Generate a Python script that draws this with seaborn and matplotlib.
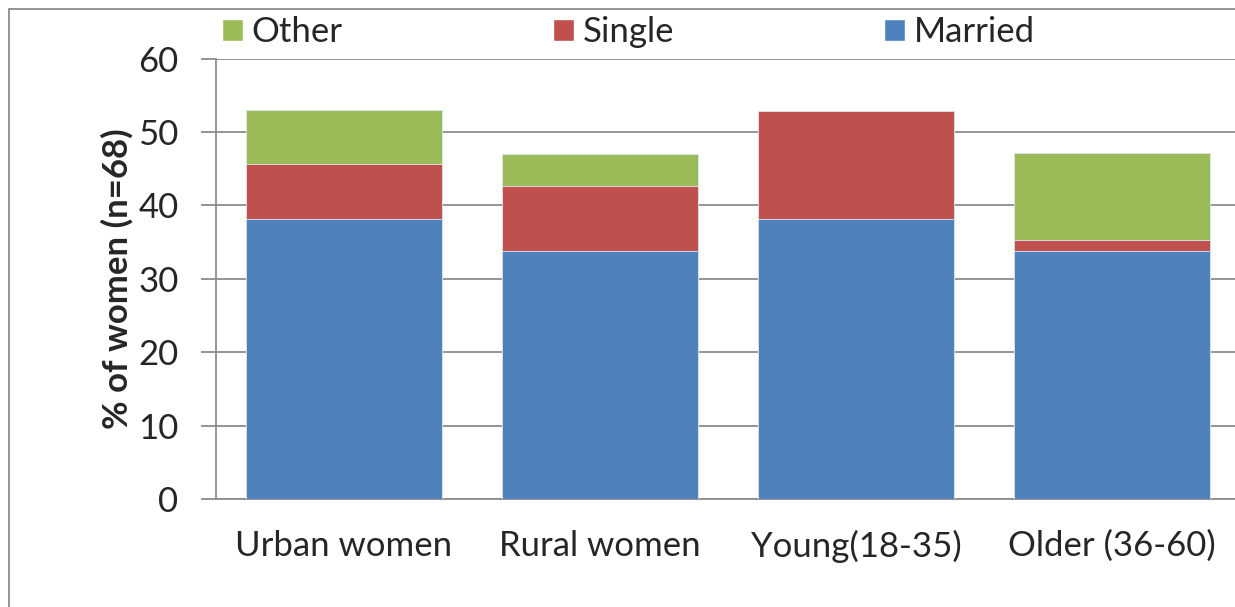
import matplotlib
matplotlib.use("Agg")
import matplotlib.pyplot as plt
import seaborn as sns
import pandas as pd
from matplotlib.patches import Patch, Rectangle

categories = ["Urban women", "Rural women", "Young(18-35)", "Older (36-60)"]
married = [38.2, 33.8, 38.2, 33.8]
single = [7.4, 8.8, 14.7, 1.5]
other = [7.4, 4.4, 0.0, 11.8]
yticks = [0, 10, 20, 30, 40, 50, 60]

c_married = "#4F81BD"
c_single = "#C0504D"
c_other = "#9BBB59"

sns.set_theme(style="white")
plt.rcParams["font.family"] = ["Lato", "DejaVu Sans"]

df = pd.DataFrame({"cat": categories, "married": married, "single": single, "other": other})
df["ms"] = df["married"] + df["single"]
df["total"] = df["ms"] + df["other"]

fig = plt.figure(figsize=(12.35, 6.07), dpi=100)
ax = fig.add_axes([216 / 1235, 1 - 499 / 607, 1024 / 1235, (499 - 58.7) / 607])

for col, color in [("total", c_other), ("ms", c_single), ("married", c_married)]:
    sns.barplot(data=df, x="cat", y=col, color=color, width=0.766, ax=ax,
                saturation=1, edgecolor="#DCE6F2", linewidth=0.6, zorder=3)

ax.set_ylim(0, 60)
ax.set_xlim(-0.5, 3.5)
ax.set_yticks(yticks)
ax.set_yticklabels([str(v) for v in yticks])
ax.yaxis.grid(True, color="#8C8C8C", linewidth=1.3, zorder=0)
ax.set_axisbelow(True)
for s in ["top", "right"]:
    ax.spines[s].set_visible(False)
for s in ["left", "bottom"]:
    ax.spines[s].set_color("#8C8C8C")
    ax.spines[s].set_linewidth(1.3)

ax.set_xticks([0, 1, 2, 3])
ax.set_xticklabels(categories, fontsize=25)
ax.tick_params(axis="x", length=0, pad=22)
ax.set_xticks([-0.5, 0.5, 1.5, 2.5], minor=True)
ax.tick_params(axis="x", which="minor", length=11, width=1.3, color="#8C8C8C", direction="out")
ax.tick_params(axis="y", length=11, width=1.3, color="#8C8C8C", labelsize=25, pad=16, left=True)
ax.set_xlabel("")
ax.set_ylabel("% of women (n=68)", fontsize=25, fontweight="bold", labelpad=3)

handles = [Patch(facecolor=c_other, label="Other"),
           Patch(facecolor=c_single, label="Single"),
           Patch(facecolor=c_married, label="Married")]
fig.legend(handles=handles, ncol=3, loc="center left", bbox_to_anchor=(222 / 1235, 1 - 32 / 607),
           frameon=False, fontsize=25, handlelength=0.6, handleheight=0.6,
           handletextpad=0.26, columnspacing=6.05, borderpad=0, borderaxespad=0)

fig.patches.append(Rectangle((8.5 / 1235, -0.1), 1.2, 1 - 9 / 607 + 0.1, transform=fig.transFigure,
                             fill=False, edgecolor="#8C8C8C", linewidth=1.3))

fig.savefig("out.png", dpi=100)
